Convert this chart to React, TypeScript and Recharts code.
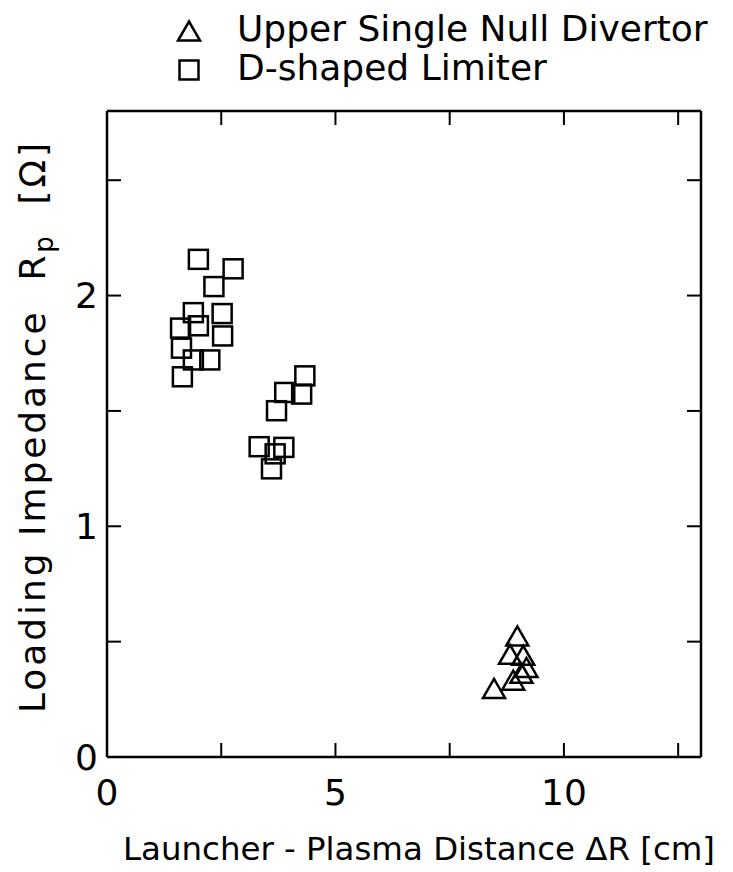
import { ScatterChart, Scatter, XAxis, YAxis, Legend, Label } from 'recharts';

// Upper single null divertor (triangles)
const divertorX = [8.98, 8.82, 9.11, 9.18, 9.07, 8.89, 8.47];
const divertorY = [0.525, 0.445, 0.441, 0.388, 0.363, 0.333, 0.297];

// D-shaped limiter (squares)
const limiterX = [2.0, 2.76, 2.34, 1.89, 2.52, 1.61, 2.0, 2.53, 1.63, 1.89, 2.25, 1.65, 4.33, 3.89, 4.26, 3.71, 3.33, 3.87, 3.68, 3.6];
const limiterY = [2.157, 2.116, 2.039, 1.926, 1.922, 1.859, 1.869, 1.825, 1.772, 1.721, 1.721, 1.648, 1.652, 1.58, 1.573, 1.501, 1.345, 1.342, 1.314, 1.249];

const seriesNames = ['Upper Single Null Divertor', 'D-shaped Limiter'];
const xTicks = [0, 2.5, 5, 7.5, 10, 12.5];
const yTicks = [0, 0.5, 1, 1.5, 2, 2.5];
const xLabelled = [0, 5, 10];
const yLabelled = [0, 1, 2];

const divertor = divertorX.map((x, i) => ({ x, y: divertorY[i] }));
const limiter = limiterX.map((x, i) => ({ x, y: limiterY[i] }));

const FONT = '"DejaVu Sans", sans-serif';
const INK = '#000';

const Square = (props: any) => {
  const { cx, cy } = props;
  const h = 9.5;
  return <rect x={cx - h} y={cy - h} width={2 * h} height={2 * h} fill="none" stroke={INK} strokeWidth={2.5} />;
};

const Triangle = (props: any) => {
  const { cx, cy } = props;
  return (
    <polygon
      points={`${cx},${cy - 9.5} ${cx + 11},${cy + 9.5} ${cx - 11},${cy + 9.5}`}
      fill="none"
      stroke={INK}
      strokeWidth={2.5}
    />
  );
};

const markers = [Triangle, Square];

// legend keeps the series order of the figure
const renderLegend = () => (
  <svg width={733} height={100}>
    {seriesNames.map((name, i) => {
      const Mark = markers[i];
      const cy = 31 + i * 39;
      return (
        <g key={name}>
          <Mark cx={189} cy={cy} />
          <text x={237} y={cy + 10} fontSize={36} fontFamily={FONT} fill={INK}>
            {name}
          </text>
        </g>
      );
    })}
  </svg>
);

const YTitle = () => (
  <text
    transform="translate(45, 428) rotate(-90)"
    textAnchor="middle"
    fontSize={36}
    fontFamily={FONT}
    fill={INK}
    textLength={570}
    lengthAdjust="spacing"
  >
    Loading Impedance{'\u00a0\u00a0'}R
    <tspan dy={8} fontSize={26}>p</tspan>
    <tspan dy={-8}>{'\u00a0\u00a0'}[Ω]</tspan>
  </text>
);

const XTitle = () => (
  <text
    x={419}
    y={860}
    textAnchor="middle"
    fontSize={32}
    fontFamily={FONT}
    fill={INK}
    textLength={592}
    lengthAdjust="spacingAndGlyphs"
  >
    Launcher - Plasma Distance ΔR [cm]
  </text>
);

const axisLine = { stroke: INK, strokeWidth: 2.5 };
const tickLine = { stroke: INK, strokeWidth: 2 };
const tickStyle = { fill: INK, fontSize: 36, fontFamily: FONT };
const blank = () => '';

export default function App() {
  return (
    <div style={{ position: 'absolute', left: 0, top: 0, background: '#fff', fontFamily: FONT }}>
      <ScatterChart width={733} height={872} margin={{ top: 110, right: 31, bottom: 55, left: 47 }}>
        <XAxis
          type="number"
          dataKey="x"
          domain={[0, 13]}
          allowDataOverflow
          ticks={xTicks}
          interval={0}
          height={60}
          axisLine={axisLine}
          tickLine={tickLine}
          tickSize={-14}
          tickMargin={36}
          tick={tickStyle}
          tickFormatter={(v: number) => (xLabelled.includes(v) ? String(v) : '')}
        >
          <Label content={<XTitle />} />
        </XAxis>
        <XAxis
          xAxisId="top"
          orientation="top"
          type="number"
          dataKey="x"
          domain={[0, 13]}
          allowDataOverflow
          ticks={xTicks}
          interval={0}
          height={1}
          axisLine={axisLine}
          tickLine={tickLine}
          tickSize={-14}
          tick={tickStyle}
          tickFormatter={blank}
        />
        <YAxis
          type="number"
          dataKey="y"
          domain={[0, 2.8]}
          allowDataOverflow
          ticks={yTicks}
          interval={0}
          width={60}
          axisLine={axisLine}
          tickLine={tickLine}
          tickSize={-14}
          tickMargin={23}
          tick={tickStyle}
          tickFormatter={(v: number) => (yLabelled.includes(v) ? String(v) : '')}
        >
          <Label content={<YTitle />} />
        </YAxis>
        <YAxis
          yAxisId="right"
          orientation="right"
          type="number"
          dataKey="y"
          domain={[0, 2.8]}
          allowDataOverflow
          ticks={yTicks}
          interval={0}
          width={1}
          axisLine={axisLine}
          tickLine={tickLine}
          tickSize={-14}
          tick={tickStyle}
          tickFormatter={blank}
        />
        <Legend
          layout="vertical"
          verticalAlign="middle"
          align="center"
          wrapperStyle={{ top: 0, left: 0, width: 733, height: 100 }}
          content={renderLegend}
        />
        <Scatter name={seriesNames[0]} data={divertor} shape={Triangle} isAnimationActive={false} />
        <Scatter name={seriesNames[1]} data={limiter} shape={Square} isAnimationActive={false} />
      </ScatterChart>
    </div>
  );
}
